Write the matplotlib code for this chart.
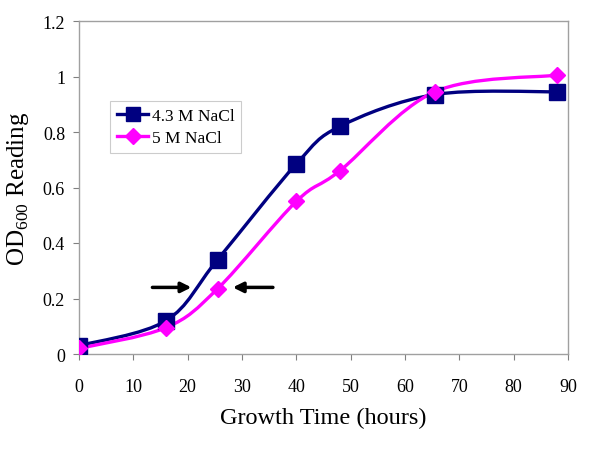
import matplotlib
matplotlib.use("Agg")
import matplotlib.pyplot as plt
from matplotlib.path import Path
from matplotlib.patches import PathPatch

hours = [0, 16, 25.5, 40, 48, 65.5, 88]
od_43 = [0.03, 0.12, 0.34, 0.685, 0.82, 0.935, 0.945]
od_5 = [0.02, 0.095, 0.235, 0.55, 0.66, 0.945, 1.005]

navy = '#000080'
pink = '#ff00ff'

plt.rcParams['font.family'] = ['Liberation Serif', 'DejaVu Serif']
plt.rcParams['mathtext.fontset'] = 'custom'
plt.rcParams['mathtext.rm'] = 'Liberation Serif'


def smooth_path(xs, ys):
    # Excel style smoothed line: cubic Bezier through every point
    pts = list(zip(xs, ys))
    verts = [pts[0]]
    codes = [Path.MOVETO]
    n = len(pts)
    for i in range(n - 1):
        p0 = pts[i - 1] if i > 0 else pts[i]
        p1 = pts[i]
        p2 = pts[i + 1]
        p3 = pts[i + 2] if i + 2 < n else pts[i + 1]
        c1 = (p1[0] + (p2[0] - p0[0]) / 6, p1[1] + (p2[1] - p0[1]) / 6)
        c2 = (p2[0] - (p3[0] - p1[0]) / 6, p2[1] - (p3[1] - p1[1]) / 6)
        verts += [c1, c2, p2]
        codes += [Path.CURVE4] * 3
    return Path(verts, codes)


fig = plt.figure(figsize=(6, 4.52), dpi=100)
ax = fig.add_axes([79 / 600, 1 - 355 / 452, 489 / 600, 333 / 452])

ax.add_patch(PathPatch(smooth_path(hours, od_43), fill=False, edgecolor=navy, lw=2.4, zorder=2))
ax.add_patch(PathPatch(smooth_path(hours, od_5), fill=False, edgecolor=pink, lw=2.4, zorder=2))
ax.plot(hours, od_43, ls='none', marker='s', ms=11, color=navy, zorder=3)
ax.plot(hours, od_5, ls='none', marker='D', ms=8.5, color=pink, zorder=4)

# legend proxies
ax.plot([], [], '-s', color=navy, lw=2.4, ms=10, label='4.3 M NaCl')
ax.plot([], [], '-D', color=pink, lw=2.4, ms=8, label='5 M NaCl')
leg = ax.legend(loc='upper left', bbox_to_anchor=(31 / 489, 1 - 80 / 333), fontsize=12.5,
                frameon=True, fancybox=False, edgecolor='#c0c0c0', borderpad=0.4,
                handlelength=1.8, handletextpad=0.2, labelspacing=0.35, borderaxespad=0)
leg.get_frame().set_linewidth(0.8)

# arrows marking the exponential phase
ax.annotate('', xy=(21.2, 0.24), xytext=(13, 0.24),
            arrowprops=dict(arrowstyle='-|>', color='black', lw=2.5, mutation_scale=15))
ax.annotate('', xy=(27.8, 0.24), xytext=(36.2, 0.24),
            arrowprops=dict(arrowstyle='-|>', color='black', lw=2.5, mutation_scale=15))

ax.set_xlim(0, 90)
ax.set_ylim(0, 1.2)
ax.set_xticks(range(0, 91, 10))
ax.set_yticks([0, 0.2, 0.4, 0.6, 0.8, 1, 1.2])
ax.set_yticklabels(['0', '0.2', '0.4', '0.6', '0.8', '1', '1.2'])
ax.tick_params(axis='x', labelsize=13, length=4, color='#808080', pad=13)
ax.tick_params(axis='y', labelsize=13, length=4, color='#808080', pad=6)
for s in ax.spines.values():
    s.set_color('#a0a0a0')
    s.set_linewidth(1)

ax.set_xlabel('Growth Time (hours)', fontsize=17.5, labelpad=9)
ax.set_ylabel('OD$_{600}$ Reading', fontsize=18, labelpad=8)

fig.savefig('out.png', dpi=100)
